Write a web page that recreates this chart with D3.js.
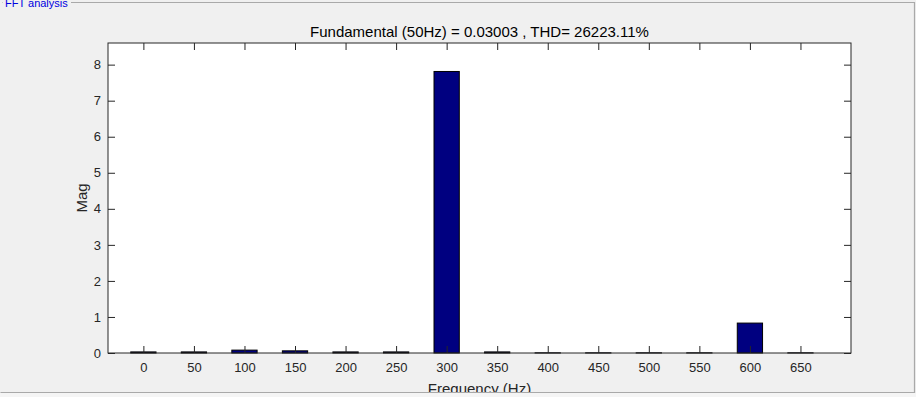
<!DOCTYPE html>
<html>
<head>
<meta charset="utf-8">
<script src="https://cdn.jsdelivr.net/npm/d3@7"></script>
<style>
  html, body { margin: 0; padding: 0; background: #f0f0f0; }
  svg { display: block; font-family: "Liberation Sans", Arial, sans-serif; }
</style>
</head>
<body>
<svg id="chart" width="916" height="397"></svg>
<script>
// harmonic frequencies (Hz) and FFT magnitudes
const freqs = [0, 50, 100, 150, 200, 250, 300, 350, 400, 450, 500, 550, 600, 650]
const mags = [0.03, 0.03, 0.08, 0.06, 0.03, 0.03, 7.81, 0.03, 0.005, 0.005, 0.005, 0.005, 0.83, 0.005]
const yTicks = [0, 1, 2, 3, 4, 5, 6, 7, 8]
const titleText = "Fundamental (50Hz) = 0.03003 , THD= 26223.11%"
const panelTitle = "FFT analysis"

const W = 916, H = 397
const margin = { top: 43, right: 65, bottom: 44, left: 108 }
const iw = W - margin.left - margin.right
const ih = H - margin.top - margin.bottom

const svg = d3.select("#chart")

// panel (group box)
svg.append("rect").attr("width", W).attr("height", H).attr("fill", "#f0f0f0")
svg.append("rect").attr("x", 0).attr("y", 393).attr("width", W).attr("height", 4).attr("fill", "#f5f5f5")

svg.append("defs").append("clipPath").attr("id", "panel-clip")
  .append("rect").attr("x", 0).attr("y", 0).attr("width", 915).attr("height", 392)

const panel = svg.append("g").attr("clip-path", "url(#panel-clip)")

// frame lines
svg.append("path")
  .attr("d", "M2.5,2.5 H3 M71,2.5 H914.5 V392.5 H0.5")
  .attr("fill", "none")
  .attr("stroke", "#a9a9a9")
  .attr("stroke-width", 1.2)

svg.append("text")
  .attr("x", 5)
  .attr("y", 7)
  .attr("fill", "#0000e0")
  .attr("font-size", 11)
  .text(panelTitle)

const x = d3.scaleLinear().domain([-35, 700]).range([0, iw])
const y = d3.scaleLinear().domain([0, 8.6]).range([ih, 0])
const barW = x(25) - x(0)

const g = panel.append("g").attr("transform", `translate(${margin.left},${margin.top})`)

g.append("rect").attr("width", iw).attr("height", ih).attr("fill", "#fff")

// bars
g.selectAll("rect.bar")
  .data(freqs.map((f, i) => ({ f, v: mags[i] })))
  .join("rect")
  .classed("bar", true)
  .attr("x", (d) => x(d.f) - barW / 2)
  .attr("y", (d) => y(d.v))
  .attr("width", barW)
  .attr("height", (d) => y(0) - y(d.v))
  .attr("fill", "#000080")
  .attr("stroke", "#000")
  .attr("stroke-width", 1)

// axes, ticks inward
const tickLen = 7
const axisColor = "#262626"

const xAxis = g.append("g").attr("transform", `translate(0,${ih})`)
  .call(d3.axisBottom(x).tickValues(freqs).tickSize(-tickLen).tickPadding(10).tickFormat(d3.format("d")))
const xTop = g.append("g")
  .call(d3.axisTop(x).tickValues(freqs).tickSize(-tickLen).tickFormat(""))
const yAxis = g.append("g")
  .call(d3.axisLeft(y).tickValues(yTicks).tickSize(-tickLen).tickPadding(7).tickFormat(d3.format("d")))
const yRight = g.append("g").attr("transform", `translate(${iw},0)`)
  .call(d3.axisRight(y).tickValues(yTicks).tickSize(-tickLen).tickFormat(""))

;[xAxis, xTop, yAxis, yRight].forEach((a) => {
  a.select(".domain").remove()
  a.selectAll("line").attr("stroke", axisColor)
  a.selectAll("text").attr("fill", axisColor).attr("font-size", 13)
    .attr("font-family", "Liberation Sans, Arial, sans-serif")
})

g.append("rect")
  .attr("width", iw).attr("height", ih)
  .attr("fill", "none")
  .attr("stroke", axisColor)
  .attr("stroke-width", 1)

// title and labels
g.append("text")
  .attr("x", iw / 2)
  .attr("y", -6)
  .attr("text-anchor", "middle")
  .attr("fill", "#000")
  .attr("font-size", 15)
  .text(titleText)

g.append("text")
  .attr("x", iw / 2)
  .attr("y", ih + 41)
  .attr("text-anchor", "middle")
  .attr("fill", axisColor)
  .attr("font-size", 15)
  .text("Frequency (Hz)")

g.append("text")
  .attr("transform", `translate(${87 - margin.left},${ih / 2}) rotate(-90)`)
  .attr("text-anchor", "middle")
  .attr("fill", axisColor)
  .attr("font-size", 15)
  .text("Mag")
</script>
</body>
</html>
